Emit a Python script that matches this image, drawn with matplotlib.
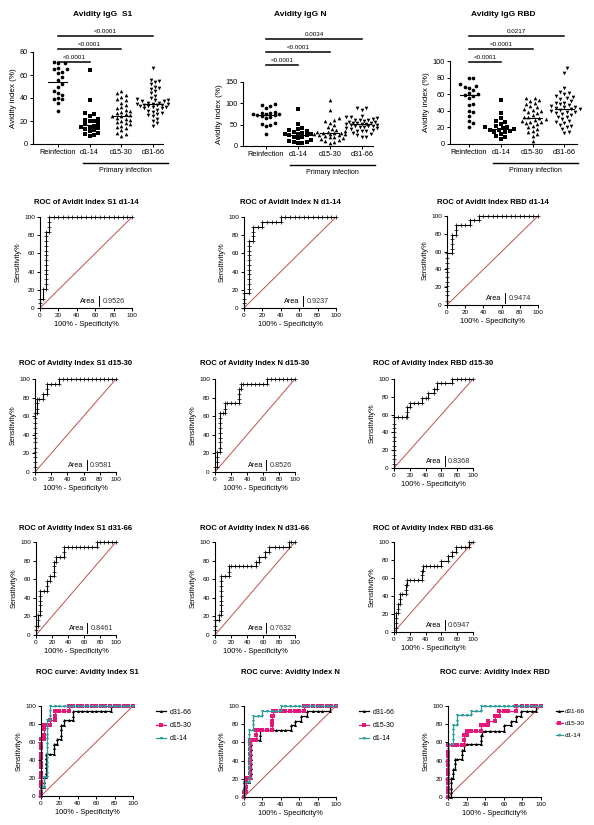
import numpy as np
import matplotlib
matplotlib.use('Agg')
import matplotlib.pyplot as plt
from matplotlib.lines import Line2D

plt.rcParams['font.family'] = ['Liberation Sans', 'DejaVu Sans']

W, H = 594, 825
RED = '#c0504d'
MAG = '#e5177b'
TEAL = '#2a9d9a'

#%% avidity index values
groups = ['Reinfection', 'd1-14', 'd15-30', 'd31-66']

s1_reinf = [71, 70, 70, 66, 65, 65, 63, 62, 58, 56, 52, 50, 46, 44, 43, 40, 39, 39, 36, 29]
s1_d1_14 = [64, 38, 27, 26, 24, 22, 21, 20, 20, 18, 17, 16, 15, 15, 14, 13, 12, 11, 10, 9, 8, 7]
s1_d15_30 = [46, 44, 43, 41, 39, 38, 36, 34, 32, 31, 30, 29, 28, 27, 26, 25, 24, 24, 23, 22,
             21, 20, 19, 18, 17, 16, 15, 14, 12, 10, 9, 7]
s1_d31_66 = [66, 56, 55, 54, 52, 50, 49, 48, 46, 44, 42, 40, 39, 38, 38, 37, 37, 36, 36, 35, 35,
             35, 34, 34, 34, 33, 33, 32, 32, 31, 31, 30, 29, 28, 27, 26, 25, 24, 22, 20, 18, 16]

n_reinf = [98, 95, 93, 90, 80, 78, 77, 76, 75, 74, 73, 72, 70, 67, 65, 55, 52, 50, 47, 28]
n_d1_14 = [87, 52, 43, 40, 38, 35, 32, 30, 29, 28, 27, 26, 25, 22, 20, 18, 15, 12, 10, 9, 8, 7]
n_d15_30 = [107, 84, 65, 62, 58, 55, 50, 45, 40, 37, 35, 33, 32, 31, 30, 30, 29, 28, 27, 26,
            25, 23, 22, 20, 18, 16, 14, 12, 10, 8]
n_d31_66 = [90, 88, 85, 70, 68, 67, 65, 63, 62, 61, 60, 58, 57, 56, 55, 54, 53, 52, 52, 51,
            50, 49, 48, 47, 46, 45, 44, 43, 42, 40, 38, 36, 35, 34, 30, 28, 25, 22, 20]

rbd_reinf = [80, 79, 72, 70, 69, 68, 65, 62, 60, 59, 58, 55, 48, 47, 40, 38, 34, 28, 25, 21]
rbd_d1_14 = [53, 37, 31, 28, 26, 24, 22, 21, 20, 19, 18, 17, 17, 16, 15, 14, 12, 10, 8, 6]
rbd_d15_30 = [56, 55, 53, 52, 50, 48, 46, 44, 42, 41, 40, 39, 37, 35, 33, 32, 31, 30, 29, 28,
              27, 26, 25, 24, 22, 20, 18, 16, 14, 12, 10, 4]
rbd_d31_66 = [91, 86, 67, 63, 62, 60, 58, 57, 55, 54, 52, 50, 49, 48, 47, 46, 45, 44, 43, 42,
              42, 41, 40, 39, 38, 37, 36, 35, 33, 32, 30, 28, 26, 25, 23, 22, 20, 18, 15, 13]

s1_pvals = ['<0.0001', '<0.0001', '<0.0001']
n_pvals = ['<0.0001', '<0.0001', '0.0034']
rbd_pvals = ['<0.0001', '<0.0001', '0.0217']

#%% ROC curves (100% - specificity, sensitivity)
roc_s1_d1_14 = [(0, 0), (0, 5), (0, 10), (3, 10), (3, 21), (6, 21), (6, 26), (6, 32), (6, 37), (6, 42),
                (6, 47), (6, 53), (6, 58), (6, 63), (6, 68), (6, 74), (6, 79), (6, 84), (10, 84), (10, 89),
                (10, 95), (10, 100), (15, 100), (20, 100), (25, 100), (30, 100), (35, 100), (40, 100),
                (45, 100), (50, 100), (55, 100), (60, 100), (65, 100), (70, 100), (75, 100), (80, 100),
                (85, 100), (90, 100), (95, 100), (100, 100)]
roc_s1_d15_30 = [(0, 0), (0, 5), (0, 11), (0, 16), (0, 21), (0, 26), (0, 32), (0, 37), (0, 42), (0, 47),
                 (0, 53), (0, 58), (0, 63), (3, 63), (3, 68), (3, 74), (3, 79), (5, 79), (10, 79), (10, 84),
                 (15, 84), (15, 89), (15, 95), (20, 95), (25, 95), (30, 95), (30, 100), (35, 100), (40, 100),
                 (45, 100), (50, 100), (55, 100), (60, 100), (65, 100), (70, 100), (75, 100), (80, 100),
                 (85, 100), (90, 100), (95, 100), (100, 100)]
roc_s1_d31_66 = [(0, 0), (0, 5), (0, 10), (3, 10), (3, 16), (3, 21), (5, 21), (5, 26), (5, 32), (5, 37),
                 (5, 42), (5, 47), (10, 47), (14, 47), (14, 53), (14, 58), (17, 58), (17, 63), (22, 63),
                 (22, 68), (22, 74), (22, 79), (25, 79), (25, 84), (30, 84), (35, 84), (35, 89), (35, 95),
                 (40, 95), (45, 95), (50, 95), (55, 95), (60, 95), (65, 95), (70, 95), (76, 95), (76, 100),
                 (80, 100), (85, 100), (90, 100), (95, 100), (100, 100)]

roc_n_d1_14 = [(0, 0), (0, 5), (0, 10), (0, 16), (5, 16), (5, 21), (5, 26), (5, 32), (5, 37), (5, 42),
               (5, 47), (5, 53), (5, 58), (5, 63), (5, 68), (5, 74), (10, 74), (10, 79), (10, 84), (10, 89),
               (15, 89), (20, 89), (20, 95), (25, 95), (30, 95), (35, 95), (40, 95), (40, 100), (45, 100),
               (50, 100), (55, 100), (60, 100), (65, 100), (70, 100), (75, 100), (80, 100), (85, 100),
               (90, 100), (95, 100), (100, 100)]
roc_n_d15_30 = [(0, 0), (0, 5), (2, 5), (2, 11), (2, 16), (2, 21), (6, 21), (6, 26), (6, 32), (6, 37),
                (6, 42), (6, 47), (6, 53), (6, 58), (6, 63), (10, 63), (13, 63), (13, 68), (13, 74),
                (15, 74), (20, 74), (25, 74), (30, 74), (30, 79), (30, 84), (30, 89), (32, 89), (32, 95),
                (35, 95), (40, 95), (45, 95), (50, 95), (55, 95), (60, 95), (65, 95), (65, 100), (70, 100),
                (75, 100), (80, 100), (85, 100), (90, 100), (95, 100), (100, 100)]
roc_n_d31_66 = [(0, 0), (0, 5), (0, 10), (0, 16), (5, 16), (5, 21), (8, 21), (8, 26), (8, 32), (8, 37),
                (8, 42), (8, 47), (8, 53), (8, 58), (8, 63), (12, 63), (17, 63), (17, 68), (17, 74),
                (20, 74), (25, 74), (30, 74), (35, 74), (40, 74), (45, 74), (51, 74), (51, 79), (55, 79),
                (55, 84), (62, 84), (62, 89), (68, 89), (68, 95), (75, 95), (80, 95), (85, 95), (93, 95),
                (93, 100), (95, 100), (100, 100)]

roc_rbd_d1_14 = [(0, 0), (0, 5), (0, 11), (0, 16), (0, 21), (0, 26), (0, 32), (0, 37), (0, 42), (0, 47),
                 (0, 53), (0, 58), (5, 58), (5, 63), (5, 68), (5, 74), (5, 79), (10, 79), (10, 84), (10, 90),
                 (15, 90), (20, 90), (25, 90), (25, 95), (30, 95), (35, 95), (35, 100), (40, 100), (45, 100),
                 (50, 100), (55, 100), (60, 100), (65, 100), (70, 100), (75, 100), (80, 100), (85, 100),
                 (90, 100), (95, 100), (100, 100)]
roc_rbd_d15_30 = [(0, 0), (0, 5), (0, 10), (0, 15), (0, 20), (0, 25), (0, 30), (0, 35), (0, 40), (0, 45),
                  (0, 50), (0, 57), (5, 57), (10, 57), (15, 57), (17, 57), (17, 63), (17, 68), (20, 68),
                  (20, 73), (25, 73), (30, 73), (35, 73), (35, 79), (40, 79), (43, 79), (43, 84), (50, 84),
                  (50, 89), (55, 89), (55, 95), (60, 95), (65, 95), (73, 95), (73, 100), (80, 100),
                  (85, 100), (90, 100), (95, 100), (100, 100)]
roc_rbd_d31_66 = [(0, 0), (3, 0), (3, 5), (3, 10), (3, 16), (3, 21), (5, 21), (5, 26), (5, 31), (7, 31),
                  (7, 37), (7, 42), (10, 42), (15, 42), (15, 47), (15, 52), (17, 52), (17, 58), (20, 58),
                  (25, 58), (30, 58), (35, 58), (35, 63), (35, 68), (37, 68), (37, 73), (40, 73), (45, 73),
                  (50, 73), (55, 73), (60, 73), (60, 79), (68, 79), (68, 84), (73, 84), (73, 89), (78, 89),
                  (78, 95), (85, 95), (90, 95), (95, 95), (95, 100), (100, 100)]

areas = {'S1': ['0.9526', '0.9581', '0.8461'],
         'N': ['0.9237', '0.8526', '0.7632'],
         'RBD': ['0.9474', '0.8368', '0.6947']}

#%%
fig = plt.figure(figsize=(W / 100, H / 100), dpi=100)


def px_axes(left, right, top, bottom):
    return fig.add_axes([left / W, 1 - bottom / H, (right - left) / W, (bottom - top) / H])


def ptxt(x, y, s, **kw):
    fig.text(x / W, 1 - y / H, s, **kw)


def pline(x1, x2, y, lw=1.0):
    fig.add_artist(Line2D([x1 / W, x2 / W], [1 - y / H, 1 - y / H], color='k', lw=lw))


def style_axes(ax, fs):
    for s in ['top', 'right']:
        ax.spines[s].set_visible(False)
    for s in ['left', 'bottom']:
        ax.spines[s].set_linewidth(0.8)
    ax.tick_params(labelsize=fs, width=0.7, length=2.5, pad=1.2)


def swarm_x(ax, i, vals, d=4.4, cap=16):
    # simple beeswarm in pixel space, spread capped at +-cap px
    pts = ax.transData.transform(np.column_stack([np.full(len(vals), i), vals]))
    order = np.argsort(vals)
    placed = []
    out = np.zeros(len(vals))
    step = d * 0.5
    nk = 2 * int(cap / step) + 1
    for j in order:
        px, py = pts[j]
        best, best_gap = px, -1
        for k in range(nk):
            off = ((k + 1) // 2) * step * (1 if k % 2 else -1)
            cx = px + off
            gap = min([np.hypot(cx - qx, py - qy) for qx, qy in placed] + [99])
            if gap >= d:
                best = cx
                break
            if gap > best_gap:
                best, best_gap = cx, gap
        placed.append((best, py))
        out[j] = best
    back = ax.transData.inverted().transform(np.column_stack([out, pts[:, 1]]))
    return back[:, 0]


def dot_panel(ax, data, xlim, ymax, yticks, bar_y, pvals):
    ax.set_xlim(*xlim)
    ax.set_ylim(0, ymax)
    markers = ['o', 's', '^', 'v']
    for i, vals in enumerate(data):
        xs = swarm_x(ax, i, vals)
        ax.scatter(xs, vals, s=7, marker=markers[i], color='k', linewidths=0, clip_on=False, zorder=3)
        med = np.median(vals)
        ax.plot([i - 0.3, i + 0.3], [med, med], color='k', lw=0.8, zorder=4)
    ax.set_xticks(range(4))
    ax.set_xticklabels(groups)
    ax.set_yticks(yticks)
    ax.set_ylabel('Avidity index (%)', fontsize=5.8, labelpad=2)
    style_axes(ax, 5.3)
    for k, (yb, p) in enumerate(zip(bar_y, pvals)):
        ax.plot([0, k + 1], [yb, yb], color='k', lw=1.1, clip_on=False)
        ax.annotate(p, ((k + 1) / 2, yb), xytext=(0, 1.5), textcoords='offset points',
                    ha='center', va='bottom', fontsize=4.5, annotation_clip=False)


def roc_panel(ax, pts, area=None):
    ax.plot([0, 100], [0, 100], color=RED, lw=0.7)
    if pts is not None:
        x, y = zip(*pts)
        ax.plot(x, y, color='k', lw=0.8, marker='+', ms=2.6, mew=0.5, clip_on=False)
    ax.set_xlim(0, 100)
    ax.set_ylim(0, 100)
    ax.set_xticks([0, 20, 40, 60, 80, 100])
    ax.set_yticks([0, 20, 40, 60, 80, 100])
    ax.set_xlabel('100% - Specificity%', fontsize=5.3, labelpad=2)
    ax.set_ylabel('Sensitivity%', fontsize=5.3, labelpad=2)
    style_axes(ax, 4.6)
    if area:
        ax.text(60, 7, 'Area', ha='right', va='center', fontsize=5.2)
        ax.plot([64, 64], [2, 13], color='k', lw=0.7)
        ax.text(68, 7, area, ha='left', va='center', fontsize=5.2, color='#333333')


#%% row 1: dot plots
ax = px_axes(33, 163, 52, 144)
dot_panel(ax, [s1_reinf, s1_d1_14, s1_d15_30, s1_d31_66], (-0.79, 3.32), 80,
          [0, 20, 40, 60, 80], [71.4, 82.6, 93.8], s1_pvals)
ax = px_axes(243, 373, 82, 146)
dot_panel(ax, [n_reinf, n_d1_14, n_d15_30, n_d31_66], (-0.72, 3.35), 150,
          [0, 50, 100, 150], [190, 221, 251], n_pvals)
ax = px_axes(450, 577, 61, 144)
dot_panel(ax, [rbd_reinf, rbd_d1_14, rbd_d15_30, rbd_d31_66], (-0.6, 3.4), 100,
          [0, 20, 40, 60, 80, 100], [99, 114, 130], rbd_pvals)

ptxt(103, 14, 'Avidity IgG  S1', ha='center', va='center', fontsize=6, fontweight='bold')
ptxt(300, 15, 'Avidity IgG N', ha='center', va='center', fontsize=6, fontweight='bold')
ptxt(503, 14, 'Avidity IgG RBD', ha='center', va='center', fontsize=6, fontweight='bold')

for x1, x2, yl in [(83, 168, 163), (290, 375, 165), (493, 578, 163)]:
    pline(x1, x2, yl)
    ptxt((x1 + x2) / 2, yl + 4, 'Primary infection', ha='center', va='top', fontsize=5)

#%% rows 2-4: single ROC curves
boxes = [[(40, 132, 217, 308), (244, 336, 217, 308), (447, 538, 216, 305)],
         [(35, 116, 379, 472), (215, 295, 379, 472), (394, 473, 379, 468)],
         [(36, 116, 542, 635), (215, 295, 542, 635), (394, 473, 542, 632)]]
title_y = [202, 364, 528]
curves = {'S1': [roc_s1_d1_14, roc_s1_d15_30, roc_s1_d31_66],
          'N': [roc_n_d1_14, roc_n_d15_30, roc_n_d31_66],
          'RBD': [roc_rbd_d1_14, roc_rbd_d15_30, roc_rbd_d31_66]}
periods = ['d1-14', 'd15-30', 'd31-66']
antigens = ['S1', 'N', 'RBD']

for r in range(3):
    for c, ag in enumerate(antigens):
        l, rr, t, b = boxes[r][c]
        ax = px_axes(l, rr, t, b)
        roc_panel(ax, curves[ag][r], areas[ag][r])
        word = 'Avidit' if r == 0 else 'Avidity'
        ptxt((l + rr) / 2, title_y[r], 'ROC of %s Index %s %s' % (word, ag, periods[r]),
             ha='center', va='center', fontsize=5.5, fontweight='bold')

#%% row 5: combined ROC curves
boxes5 = [(41, 133, 706, 796), (244, 336, 706, 797), (448, 541, 706, 797)]
for c, ag in enumerate(antigens):
    l, rr, t, b = boxes5[c]
    ax = px_axes(l, rr, t, b)
    roc_panel(ax, None)
    handles = []
    for r, col, mk in [(2, 'k', '^'), (1, MAG, 's'), (0, TEAL, 'v')]:
        x, y = zip(*curves[ag][r])
        h, = ax.plot(x, y, color=col, lw=0.9, marker=mk, ms=2.2, mew=0, clip_on=False,
                     label=periods[r])
        handles.append(h)
    if c < 2:
        ax.legend(handles=handles, loc='upper left', bbox_to_anchor=(1.22, 1.0), frameon=False,
                  fontsize=5, handlelength=1.5, handletextpad=0.5, labelspacing=0.9, borderaxespad=0)
    else:
        ax.legend(handles=handles, loc='upper left', bbox_to_anchor=(1.13, 1.0), frameon=False,
                  fontsize=4.6, handlelength=1.2, handletextpad=0.3, labelspacing=1.0, borderaxespad=0)
    ptxt((l + rr) / 2, 672, 'ROC curve: Avidity Index %s' % ag,
         ha='center', va='center', fontsize=5.5, fontweight='bold')

plt.savefig('out.png', dpi=100)
